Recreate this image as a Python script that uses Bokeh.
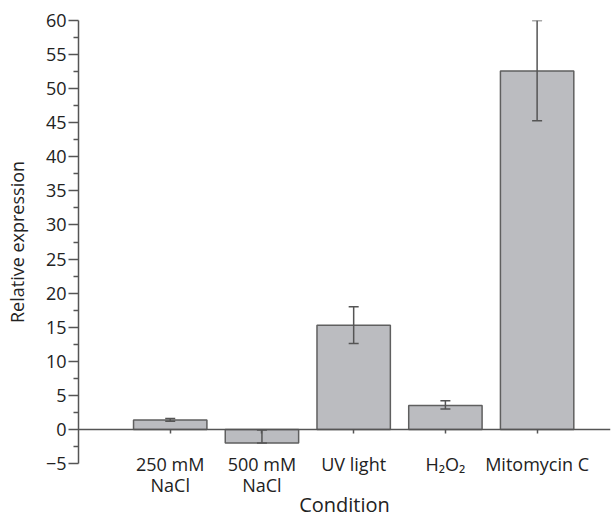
from bokeh.plotting import figure
from bokeh.models import (ColumnDataSource, Range1d, FixedTicker, LinearAxis,
                          Whisker, TeeHead)
from bokeh.embed import file_html
from bokeh.resources import INLINE

# ---- data ----
categories = ["250 mM\nNaCl", "500 mM\nNaCl", "UV light", "H\u2082O\u2082", "Mitomycin C"]
positions = [1, 2, 3, 4, 5]
values = [1.4, -2.0, 15.3, 3.5, 52.6]
err_lower = [1.2, -2.0, 12.6, 3.0, 45.3]
err_upper = [1.6, -0.1, 18.0, 4.2, 60.0]
y_ticks = [-5, 0, 5, 10, 15, 20, 25, 30, 35, 40, 45, 50, 55, 60]

FONT = "Open Sans"
TXT = "#222222"
AX = "#555555"
src = ColumnDataSource(dict(x=positions, top=values, lo=err_lower, hi=err_upper))

p = figure(width=616, height=521, output_backend="svg", toolbar_location=None,
           x_range=Range1d(0, 5.8), y_range=Range1d(-5, 60),
           min_border_left=78, min_border_top=20, min_border_right=6,
           min_border_bottom=40)
p.outline_line_color = None
p.xgrid.visible = False
p.ygrid.visible = False

p.vbar(x="x", top="top", bottom=0, width=0.8, source=src,
       fill_color="#bbbcc0", line_color="#5f5f5f", line_width=1.5)

w = Whisker(base="x", lower="lo", upper="hi", source=src, level="overlay",
            line_color=AX, line_width=1.5,
            upper_head=TeeHead(size=10, line_color=AX, line_width=1.5),
            lower_head=TeeHead(size=10, line_color=AX, line_width=1.5))
p.add_layout(w)

# y axis
ya = p.yaxis[0]
ya.ticker = FixedTicker(ticks=y_ticks,
                        minor_ticks=[t + 2.5 for t in y_ticks[:-1]])
ya.major_label_overrides = {-5: "\u22125"}
ya.axis_line_color = AX
ya.axis_line_width = 1.5
ya.major_tick_line_color = AX
ya.major_tick_line_width = 1.5
ya.minor_tick_line_color = AX
ya.minor_tick_line_width = 1.5
ya.major_tick_out = 10
ya.major_tick_in = 0
ya.minor_tick_out = 5
ya.minor_tick_in = 0
ya.major_label_text_font = FONT
ya.major_label_text_font_size = "18px"
ya.major_label_text_color = TXT
ya.major_label_standoff = 2
ya.axis_label = "Relative expression"
ya.axis_label_text_font = FONT
ya.axis_label_text_font_size = "18px"
ya.axis_label_text_font_style = "normal"
ya.axis_label_text_color = TXT
ya.axis_label_standoff = 14

# x axis (labels only, at frame bottom)
xa = p.xaxis[0]
xa.ticker = FixedTicker(ticks=positions)
xa.major_label_overrides = {pos: lab for pos, lab in zip(positions, categories)}
xa.axis_line_color = None
xa.major_tick_line_color = None
xa.minor_tick_line_color = None
xa.major_tick_out = 0
xa.major_tick_in = 0
xa.major_label_standoff = -12
xa.major_label_text_font = FONT
xa.major_label_text_font_size = "18px"
xa.major_label_text_line_height = 0.9
xa.major_label_text_color = TXT
xa.axis_label = "Condition"
xa.axis_label_text_font = FONT
xa.axis_label_text_font_size = "20px"
xa.axis_label_text_font_style = "normal"
xa.axis_label_text_color = TXT
xa.axis_label_standoff = -9

# zero-line axis
za = LinearAxis(fixed_location=0, ticker=FixedTicker(ticks=positions))
za.axis_line_color = AX
za.axis_line_width = 1.5
za.major_tick_line_color = AX
za.major_tick_line_width = 1.5
za.major_tick_out = 4
za.major_tick_in = 0
za.minor_tick_line_color = None
za.major_label_text_color = None
za.major_label_text_font_size = "0px"
p.add_layout(za, "below")

open("out.html", "w").write(file_html(p, INLINE))
